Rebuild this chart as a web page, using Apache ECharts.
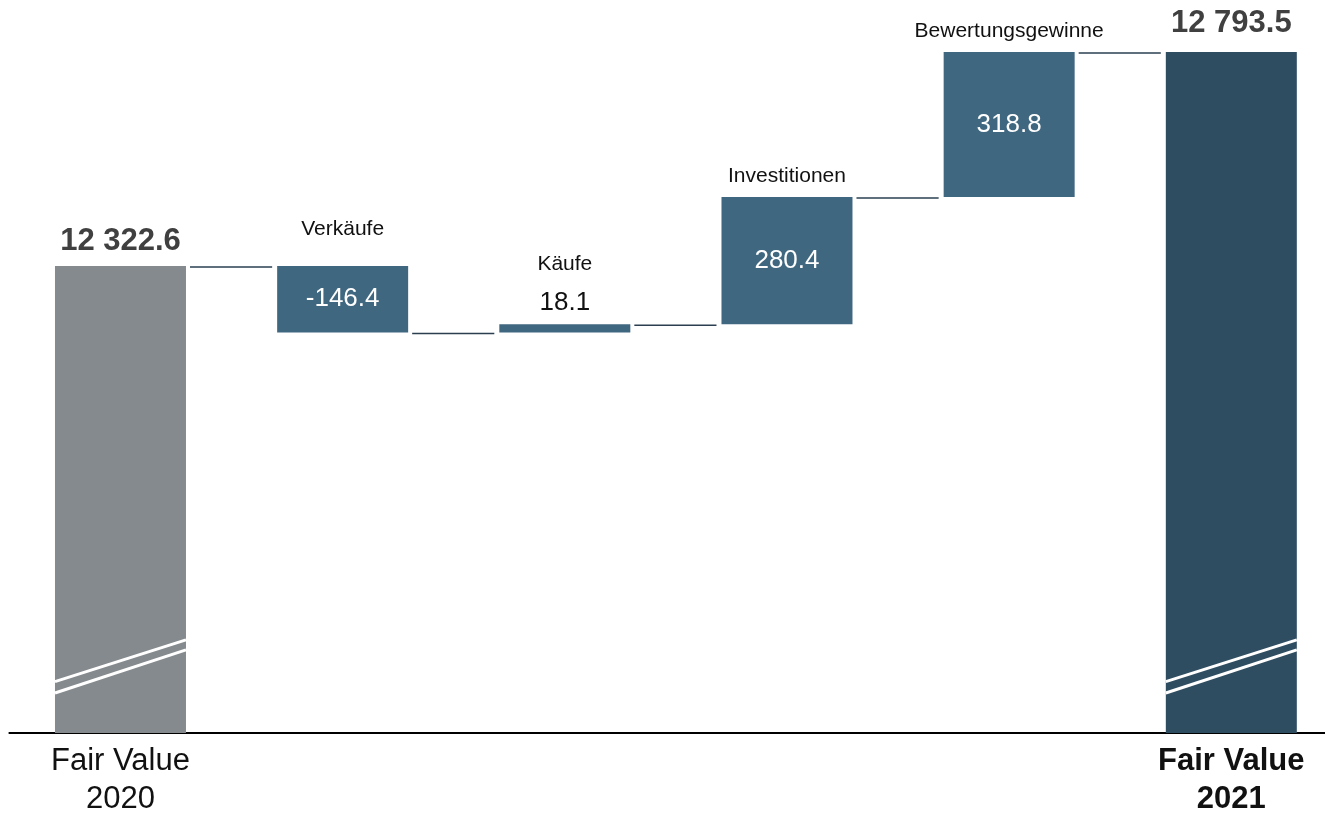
<!DOCTYPE html>
<html>
<head>
<meta charset="utf-8">
<style>
    html, body { margin: 0; padding: 0; background: #ffffff; }
    #chart { width: 1325px; height: 814px; }
</style>
<script src="https://cdn.jsdelivr.net/npm/echarts@6/dist/echarts.min.js"></script>
</head>
<body>
<div id="chart"></div>
<script>
    // values
    const categories = ['Fair Value 2020', 'Verkäufe', 'Käufe', 'Investitionen', 'Bewertungsgewinne', 'Fair Value 2021'];
    const startValue = 12322.6;
    const deltaNames = ['Verkäufe', 'Käufe', 'Investitionen', 'Bewertungsgewinne'];
    const deltas = [-146.4, 18.1, 280.4, 318.8];
    const endValue = 12793.5;
    // axis break marks on the two total bars: [value at left edge, value at right edge]
    const breakMarks = [[11408, 11500], [11383, 11478]];

    const FONT = '"Liberation Sans", Arial, sans-serif';
    const BAR_W = 131;
    const nameLift = [37, 60, 21, 21];

    function format(v) {
        const s = Math.abs(v).toFixed(1).split('.');
        return (v < 0 ? '-' : '') + s[0].replace(/\B(?=(\d{3})+(?!\d))/g, ' ') + '.' + s[1];
    }

    // running levels for the waterfall
    const levels = [startValue];
    deltas.forEach(d => levels.push(+(levels[levels.length - 1] + d).toFixed(1)));

    const baseData = [0];
    const deltaData = ['-'];
    const totalData = [startValue];
    deltas.forEach((d, i) => {
        baseData.push(Math.min(levels[i], levels[i + 1]));
        deltaData.push(Math.abs(d));
        totalData.push('-');
    });
    baseData.push(0);
    deltaData.push('-');
    totalData.push(endValue);

    const connectorData = levels.map((v, i) => [i, v]);
    const nameData = deltas.map((d, i) => [i + 1, Math.max(levels[i], levels[i + 1])]);
    const breakData = [];
    [0, categories.length - 1].forEach(c => breakMarks.forEach(m => breakData.push([c, m[0], m[1]])));

    const chart = echarts.init(document.getElementById('chart'));
    const option = {
        animation: false,
        grid: {
            left: 9.4,
            top: 3.6,
            width: 1333,
            height: 729.4,
            outerBoundsMode: 'none'
        },
        xAxis: {
            type: 'category',
            data: categories,
            axisLine: { lineStyle: { color: '#000000', width: 2 } },
            axisTick: { show: false },
            axisLabel: {
                interval: 0,
                margin: 9,
                formatter: (val, idx) => {
                    if (idx === 0) return '{n|Fair Value}\n{n|2020}';
                    if (idx === categories.length - 1) return '{b|Fair Value}\n{b|2021}';
                    return '';
                },
                rich: {
                    n: { fontFamily: FONT, fontSize: 31, color: '#111111', lineHeight: 38 },
                    b: { fontFamily: FONT, fontSize: 31, fontWeight: 'bold', color: '#111111', lineHeight: 38 }
                }
            }
        },
        yAxis: {
            type: 'value',
            min: 11295,
            max: 12900,
            show: false
        },
        series: [
            {
                type: 'bar',
                stack: 'wf',
                barWidth: BAR_W,
                itemStyle: { color: 'transparent' },
                silent: true,
                data: baseData
            },
            {
                type: 'bar',
                stack: 'wf',
                barWidth: BAR_W,
                itemStyle: { color: '#406780' },
                label: {
                    show: true,
                    position: 'inside',
                    fontFamily: FONT,
                    fontSize: 26,
                    color: '#ffffff',
                    formatter: p => format(deltas[p.dataIndex - 1])
                },
                data: deltaData.map((v, i) => {
                    if (i === 2) {
                        return { value: v, label: { position: 'top', distance: 8, color: '#111111' } };
                    }
                    return v;
                })
            },
            {
                type: 'bar',
                stack: 'wf',
                barWidth: BAR_W,
                label: {
                    show: true,
                    position: 'top',
                    fontFamily: FONT,
                    fontSize: 31,
                    fontWeight: 'bold',
                    color: '#404040',
                    formatter: p => format(p.value)
                },
                data: totalData.map((v, i) => {
                    if (i === 0) return { value: v, itemStyle: { color: '#858a8e' }, label: { distance: 9 } };
                    if (i === categories.length - 1) return { value: v, itemStyle: { color: '#2f4d61' }, label: { distance: 13 } };
                    return v;
                })
            },
            {
                // connector lines between bars
                type: 'custom',
                z: 5,
                silent: true,
                data: connectorData,
                renderItem: (params, api) => {
                    const p = api.coord([api.value(0), api.value(1)]);
                    const next = api.coord([api.value(0) + 1, api.value(1)]);
                    return {
                        type: 'line',
                        shape: { x1: p[0] + BAR_W / 2 + 4, y1: p[1] + 1, x2: next[0] - BAR_W / 2 - 5, y2: p[1] + 1 },
                        style: { stroke: '#2b3f50', lineWidth: 1.5 }
                    };
                }
            },
            {
                // axis break marks
                type: 'custom',
                z: 6,
                silent: true,
                data: breakData,
                renderItem: (params, api) => {
                    const a = api.coord([api.value(0), api.value(1)]);
                    const b = api.coord([api.value(0), api.value(2)]);
                    return {
                        type: 'line',
                        shape: { x1: a[0] - BAR_W / 2, y1: a[1], x2: a[0] + BAR_W / 2, y2: b[1] },
                        style: { stroke: '#ffffff', lineWidth: 3 }
                    };
                }
            },
            {
                // names above the change bars
                type: 'custom',
                z: 7,
                silent: true,
                data: nameData,
                renderItem: (params, api) => {
                    const p = api.coord([api.value(0), api.value(1)]);
                    return {
                        type: 'text',
                        x: p[0],
                        y: p[1] - nameLift[params.dataIndex],
                        style: {
                            text: deltaNames[params.dataIndex],
                            fill: '#111111',
                            font: '21px ' + FONT,
                            align: 'center',
                            verticalAlign: 'middle'
                        }
                    };
                }
            }
        ]
    };
    chart.setOption(option);
</script>
</body>
</html>
